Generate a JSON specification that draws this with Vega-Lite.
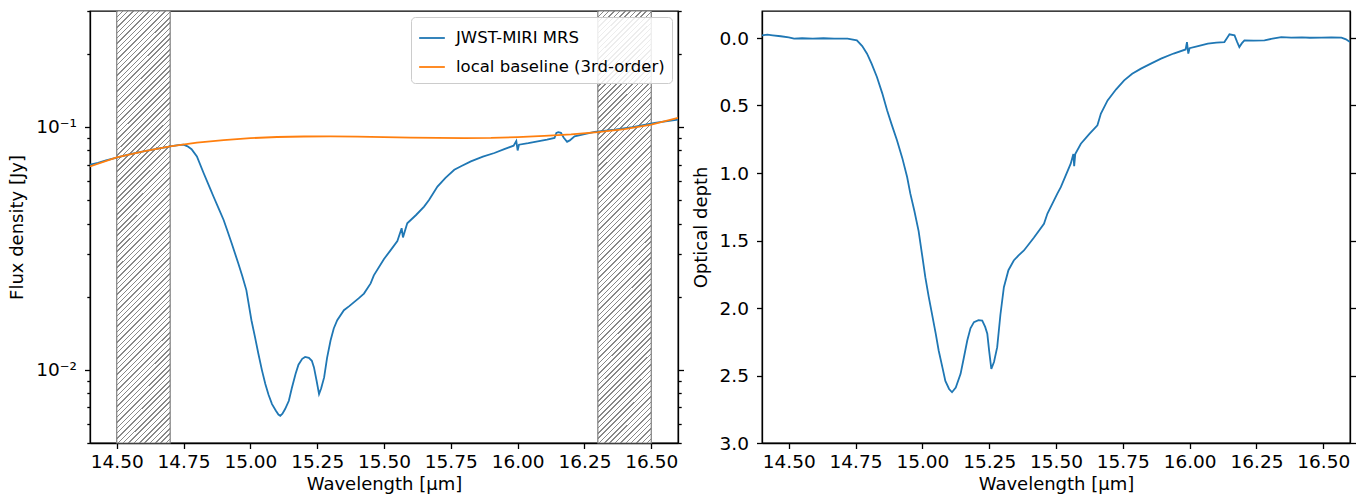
{
"$schema": "https://vega.github.io/schema/vega-lite/v6.json",
"background": "white",
"padding": {"left": 8, "top": 1, "right": 0, "bottom": 0},
"spacing": 6,
"resolve": {"scale": {"color": "independent"}, "legend": {"color": "independent"}},
"config": {
  "font": "DejaVu Sans",
  "view": {"stroke": "black", "strokeWidth": 1.3},
  "axis": {"labelFont": "DejaVu Sans", "titleFont": "DejaVu Sans", "labelFontSize": 18.5, "titleFontSize": 18, "titleFontWeight": "normal", "labelColor": "black", "titleColor": "black", "domainColor": "black", "tickColor": "black", "domainWidth": 1.3, "tickWidth": 1.3, "grid": false},
  "legend": {"strokeColor": "#cccccc", "fillColor": "rgba(255,255,255,0.85)", "padding": 7, "cornerRadius": 4, "labelFontSize": 16.5, "labelFont": "DejaVu Sans", "labelColor": "black", "symbolStrokeWidth": 1.8, "symbolSize": 660, "rowPadding": 6, "labelOffset": 10, "labelLimit": 400}
},
"datasets": {
  "bands": [{"start": 14.5, "end": 14.7}, {"start": 16.3, "end": 16.5}],
  "base": [
    {"wl": 14.4, "flux": 0.0688}, {"wl": 14.5, "flux": 0.0749}, {"wl": 14.6, "flux": 0.0793}, {"wl": 14.7, "flux": 0.0831},
    {"wl": 14.8, "flux": 0.0861}, {"wl": 14.9, "flux": 0.0882}, {"wl": 15.0, "flux": 0.0899}, {"wl": 15.1, "flux": 0.0909},
    {"wl": 15.2, "flux": 0.0913}, {"wl": 15.3, "flux": 0.0914}, {"wl": 15.4, "flux": 0.0912}, {"wl": 15.5, "flux": 0.0908},
    {"wl": 15.6, "flux": 0.0903}, {"wl": 15.7, "flux": 0.0901}, {"wl": 15.8, "flux": 0.0900}, {"wl": 15.9, "flux": 0.0901},
    {"wl": 16.0, "flux": 0.0908}, {"wl": 16.1, "flux": 0.0918}, {"wl": 16.2, "flux": 0.0931}, {"wl": 16.3, "flux": 0.0952},
    {"wl": 16.4, "flux": 0.0979}, {"wl": 16.5, "flux": 0.1022}, {"wl": 16.6, "flux": 0.1089}
  ],
  "flux": [
    {"wl": 14.40, "flux": 0.0699}, {"wl": 14.43, "flux": 0.0712}, {"wl": 14.46, "flux": 0.0728}, {"wl": 14.50, "flux": 0.0748},
    {"wl": 14.55, "flux": 0.0772}, {"wl": 14.60, "flux": 0.0793}, {"wl": 14.65, "flux": 0.0813}, {"wl": 14.70, "flux": 0.0832},
    {"wl": 14.73, "flux": 0.0842}, {"wl": 14.75, "flux": 0.0845}, {"wl": 14.765, "flux": 0.0832}, {"wl": 14.78, "flux": 0.0810},
    {"wl": 14.80, "flux": 0.0756}, {"wl": 14.825, "flux": 0.0646}, {"wl": 14.85, "flux": 0.0556}, {"wl": 14.862, "flux": 0.0517},
    {"wl": 14.88, "flux": 0.0465}, {"wl": 14.90, "flux": 0.0414}, {"wl": 14.915, "flux": 0.0371}, {"wl": 14.93, "flux": 0.0332},
    {"wl": 14.955, "flux": 0.0274}, {"wl": 14.97, "flux": 0.0243}, {"wl": 14.985, "flux": 0.0213}, {"wl": 15.004, "flux": 0.0160},
    {"wl": 15.017, "flux": 0.0137}, {"wl": 15.03, "flux": 0.01165}, {"wl": 15.043, "flux": 0.0100}, {"wl": 15.056, "flux": 0.00874},
    {"wl": 15.068, "flux": 0.0079}, {"wl": 15.081, "flux": 0.00723}, {"wl": 15.095, "flux": 0.0068}, {"wl": 15.105, "flux": 0.00655},
    {"wl": 15.112, "flux": 0.00647}, {"wl": 15.12, "flux": 0.0066}, {"wl": 15.13, "flux": 0.0069}, {"wl": 15.144, "flux": 0.00746},
    {"wl": 15.155, "flux": 0.0084}, {"wl": 15.169, "flux": 0.00962}, {"wl": 15.18, "flux": 0.0105}, {"wl": 15.194, "flux": 0.0111},
    {"wl": 15.205, "flux": 0.0113}, {"wl": 15.219, "flux": 0.01121}, {"wl": 15.23, "flux": 0.0109}, {"wl": 15.238, "flux": 0.01024},
    {"wl": 15.248, "flux": 0.0090}, {"wl": 15.257, "flux": 0.00795}, {"wl": 15.265, "flux": 0.0084}, {"wl": 15.276, "flux": 0.00931},
    {"wl": 15.287, "flux": 0.0112}, {"wl": 15.30, "flux": 0.0132}, {"wl": 15.312, "flux": 0.0148}, {"wl": 15.325, "flux": 0.0160},
    {"wl": 15.35, "flux": 0.0176}, {"wl": 15.37, "flux": 0.0183}, {"wl": 15.388, "flux": 0.0190}, {"wl": 15.405, "flux": 0.0197},
    {"wl": 15.425, "flux": 0.0206}, {"wl": 15.45, "flux": 0.0227}, {"wl": 15.462, "flux": 0.0245}, {"wl": 15.50, "flux": 0.0286},
    {"wl": 15.525, "flux": 0.0311}, {"wl": 15.55, "flux": 0.0339}, {"wl": 15.566, "flux": 0.0383}, {"wl": 15.571, "flux": 0.0351},
    {"wl": 15.587, "flux": 0.0401}, {"wl": 15.62, "flux": 0.0434}, {"wl": 15.65, "flux": 0.0470}, {"wl": 15.669, "flux": 0.0501},
    {"wl": 15.70, "flux": 0.0568}, {"wl": 15.73, "flux": 0.0617}, {"wl": 15.763, "flux": 0.0666}, {"wl": 15.79, "flux": 0.0690},
    {"wl": 15.825, "flux": 0.0721}, {"wl": 15.87, "flux": 0.0754}, {"wl": 15.913, "flux": 0.0781}, {"wl": 15.95, "flux": 0.0810},
    {"wl": 15.985, "flux": 0.0837}, {"wl": 15.995, "flux": 0.0875}, {"wl": 16.0, "flux": 0.0800}, {"wl": 16.005, "flux": 0.0845},
    {"wl": 16.04, "flux": 0.0857}, {"wl": 16.075, "flux": 0.0872}, {"wl": 16.11, "flux": 0.0886}, {"wl": 16.138, "flux": 0.0901},
    {"wl": 16.145, "flux": 0.0945}, {"wl": 16.152, "flux": 0.0952}, {"wl": 16.162, "flux": 0.0945}, {"wl": 16.172, "flux": 0.0905},
    {"wl": 16.185, "flux": 0.0868}, {"wl": 16.195, "flux": 0.0880}, {"wl": 16.213, "flux": 0.0914}, {"wl": 16.25, "flux": 0.0934},
    {"wl": 16.288, "flux": 0.0954}, {"wl": 16.363, "flux": 0.0975}, {"wl": 16.43, "flux": 0.0998}, {"wl": 16.513, "flux": 0.1039},
    {"wl": 16.56, "flux": 0.1057}, {"wl": 16.6, "flux": 0.1072}
  ],
  "tau": [
    {"wl": 14.40, "tau": -0.02}, {"wl": 14.42, "tau": -0.025}, {"wl": 14.44, "tau": -0.02}, {"wl": 14.47, "tau": -0.013},
    {"wl": 14.50, "tau": -0.005}, {"wl": 14.52, "tau": 0.004}, {"wl": 14.55, "tau": 0.002}, {"wl": 14.59, "tau": 0.004},
    {"wl": 14.63, "tau": 0.002}, {"wl": 14.67, "tau": 0.005}, {"wl": 14.72, "tau": 0.004}, {"wl": 14.755, "tau": 0.017},
    {"wl": 14.775, "tau": 0.06}, {"wl": 14.793, "tau": 0.116}, {"wl": 14.81, "tau": 0.19}, {"wl": 14.83, "tau": 0.289},
    {"wl": 14.85, "tau": 0.41}, {"wl": 14.868, "tau": 0.536}, {"wl": 14.885, "tau": 0.64}, {"wl": 14.905, "tau": 0.758},
    {"wl": 14.925, "tau": 0.89}, {"wl": 14.943, "tau": 1.03}, {"wl": 14.955, "tau": 1.153}, {"wl": 14.97, "tau": 1.28},
    {"wl": 14.986, "tau": 1.43}, {"wl": 15.0, "tau": 1.62}, {"wl": 15.011, "tau": 1.772}, {"wl": 15.024, "tau": 1.92},
    {"wl": 15.036, "tau": 2.043}, {"wl": 15.05, "tau": 2.19}, {"wl": 15.061, "tau": 2.315}, {"wl": 15.075, "tau": 2.44},
    {"wl": 15.086, "tau": 2.54}, {"wl": 15.1, "tau": 2.6}, {"wl": 15.111, "tau": 2.624}, {"wl": 15.125, "tau": 2.59},
    {"wl": 15.143, "tau": 2.488}, {"wl": 15.155, "tau": 2.37}, {"wl": 15.168, "tau": 2.241}, {"wl": 15.18, "tau": 2.15},
    {"wl": 15.193, "tau": 2.105}, {"wl": 15.21, "tau": 2.09}, {"wl": 15.224, "tau": 2.093}, {"wl": 15.235, "tau": 2.14},
    {"wl": 15.243, "tau": 2.191}, {"wl": 15.25, "tau": 2.32}, {"wl": 15.258, "tau": 2.451}, {"wl": 15.268, "tau": 2.4},
    {"wl": 15.28, "tau": 2.29}, {"wl": 15.292, "tau": 2.05}, {"wl": 15.305, "tau": 1.846}, {"wl": 15.322, "tau": 1.72},
    {"wl": 15.342, "tau": 1.648}, {"wl": 15.36, "tau": 1.61}, {"wl": 15.38, "tau": 1.574}, {"wl": 15.417, "tau": 1.48},
    {"wl": 15.455, "tau": 1.376}, {"wl": 15.468, "tau": 1.3}, {"wl": 15.505, "tau": 1.153}, {"wl": 15.518, "tau": 1.105},
    {"wl": 15.555, "tau": 0.931}, {"wl": 15.565, "tau": 0.86}, {"wl": 15.568, "tau": 0.95}, {"wl": 15.572, "tau": 0.86},
    {"wl": 15.593, "tau": 0.783}, {"wl": 15.625, "tau": 0.71}, {"wl": 15.655, "tau": 0.647}, {"wl": 15.668, "tau": 0.56},
    {"wl": 15.693, "tau": 0.462}, {"wl": 15.725, "tau": 0.38}, {"wl": 15.755, "tau": 0.314}, {"wl": 15.785, "tau": 0.265},
    {"wl": 15.818, "tau": 0.227}, {"wl": 15.855, "tau": 0.19}, {"wl": 15.893, "tau": 0.153}, {"wl": 15.94, "tau": 0.115},
    {"wl": 15.985, "tau": 0.085}, {"wl": 15.99, "tau": 0.03}, {"wl": 15.995, "tau": 0.116}, {"wl": 16.0, "tau": 0.075},
    {"wl": 16.035, "tau": 0.058}, {"wl": 16.068, "tau": 0.042}, {"wl": 16.1, "tau": 0.035}, {"wl": 16.13, "tau": 0.03},
    {"wl": 16.14, "tau": 0.0}, {"wl": 16.149, "tau": -0.027}, {"wl": 16.168, "tau": -0.02}, {"wl": 16.178, "tau": 0.03},
    {"wl": 16.186, "tau": 0.067}, {"wl": 16.195, "tau": 0.04}, {"wl": 16.205, "tau": 0.017}, {"wl": 16.24, "tau": 0.02},
    {"wl": 16.28, "tau": 0.017}, {"wl": 16.31, "tau": 0.005}, {"wl": 16.343, "tau": -0.007}, {"wl": 16.38, "tau": -0.003},
    {"wl": 16.42, "tau": -0.005}, {"wl": 16.45, "tau": -0.002}, {"wl": 16.493, "tau": -0.003}, {"wl": 16.53, "tau": -0.005},
    {"wl": 16.568, "tau": -0.003}, {"wl": 16.585, "tau": 0.01}, {"wl": 16.6, "tau": 0.03}
  ]
},
"hconcat": [
  {
    "width": 588, "height": 432,
    "layer": [
      {
        "data": {"name": "bands"},
        "mark": {"type": "rect", "stroke": "#808080", "strokeWidth": 1.2, "fill": {"gradient": "linear", "x1": 0, "y1": 0, "x2": 0.1366, "y2": 1.1066, "stops": [
{"offset":0,"color":"#888"},{"offset":0.003,"color":"#888"},{"offset":0.003,"color":"#fff"},
{"offset":0.011,"color":"#fff"},{"offset":0.011,"color":"#888"},{"offset":0.014,"color":"#888"},{"offset":0.014,"color":"#fff"},
{"offset":0.022,"color":"#fff"},{"offset":0.022,"color":"#888"},{"offset":0.025,"color":"#888"},{"offset":0.025,"color":"#fff"},
{"offset":0.033,"color":"#fff"},{"offset":0.033,"color":"#888"},{"offset":0.036,"color":"#888"},{"offset":0.036,"color":"#fff"},
{"offset":0.044,"color":"#fff"},{"offset":0.044,"color":"#888"},{"offset":0.047,"color":"#888"},{"offset":0.047,"color":"#fff"},
{"offset":0.055,"color":"#fff"},{"offset":0.055,"color":"#888"},{"offset":0.058,"color":"#888"},{"offset":0.058,"color":"#fff"},
{"offset":0.066,"color":"#fff"},{"offset":0.066,"color":"#888"},{"offset":0.069,"color":"#888"},{"offset":0.069,"color":"#fff"},
{"offset":0.077,"color":"#fff"},{"offset":0.077,"color":"#888"},{"offset":0.08,"color":"#888"},{"offset":0.08,"color":"#fff"},
{"offset":0.088,"color":"#fff"},{"offset":0.088,"color":"#888"},{"offset":0.091,"color":"#888"},{"offset":0.091,"color":"#fff"},
{"offset":0.099,"color":"#fff"},{"offset":0.099,"color":"#888"},{"offset":0.102,"color":"#888"},{"offset":0.102,"color":"#fff"},
{"offset":0.11,"color":"#fff"},{"offset":0.11,"color":"#888"},{"offset":0.113,"color":"#888"},{"offset":0.113,"color":"#fff"},
{"offset":0.121,"color":"#fff"},{"offset":0.121,"color":"#888"},{"offset":0.124,"color":"#888"},{"offset":0.124,"color":"#fff"},
{"offset":0.132,"color":"#fff"},{"offset":0.132,"color":"#888"},{"offset":0.135,"color":"#888"},{"offset":0.135,"color":"#fff"},
{"offset":0.143,"color":"#fff"},{"offset":0.143,"color":"#888"},{"offset":0.146,"color":"#888"},{"offset":0.146,"color":"#fff"},
{"offset":0.154,"color":"#fff"},{"offset":0.154,"color":"#888"},{"offset":0.157,"color":"#888"},{"offset":0.157,"color":"#fff"},
{"offset":0.165,"color":"#fff"},{"offset":0.165,"color":"#888"},{"offset":0.168,"color":"#888"},{"offset":0.168,"color":"#fff"},
{"offset":0.176,"color":"#fff"},{"offset":0.176,"color":"#888"},{"offset":0.179,"color":"#888"},{"offset":0.179,"color":"#fff"},
{"offset":0.187,"color":"#fff"},{"offset":0.187,"color":"#888"},{"offset":0.19,"color":"#888"},{"offset":0.19,"color":"#fff"},
{"offset":0.198,"color":"#fff"},{"offset":0.198,"color":"#888"},{"offset":0.201,"color":"#888"},{"offset":0.201,"color":"#fff"},
{"offset":0.209,"color":"#fff"},{"offset":0.209,"color":"#888"},{"offset":0.212,"color":"#888"},{"offset":0.212,"color":"#fff"},
{"offset":0.22,"color":"#fff"},{"offset":0.22,"color":"#888"},{"offset":0.223,"color":"#888"},{"offset":0.223,"color":"#fff"},
{"offset":0.231,"color":"#fff"},{"offset":0.231,"color":"#888"},{"offset":0.234,"color":"#888"},{"offset":0.234,"color":"#fff"},
{"offset":0.242,"color":"#fff"},{"offset":0.242,"color":"#888"},{"offset":0.245,"color":"#888"},{"offset":0.245,"color":"#fff"},
{"offset":0.253,"color":"#fff"},{"offset":0.253,"color":"#888"},{"offset":0.256,"color":"#888"},{"offset":0.256,"color":"#fff"},
{"offset":0.264,"color":"#fff"},{"offset":0.264,"color":"#888"},{"offset":0.267,"color":"#888"},{"offset":0.267,"color":"#fff"},
{"offset":0.275,"color":"#fff"},{"offset":0.275,"color":"#888"},{"offset":0.278,"color":"#888"},{"offset":0.278,"color":"#fff"},
{"offset":0.286,"color":"#fff"},{"offset":0.286,"color":"#888"},{"offset":0.289,"color":"#888"},{"offset":0.289,"color":"#fff"},
{"offset":0.297,"color":"#fff"},{"offset":0.297,"color":"#888"},{"offset":0.3,"color":"#888"},{"offset":0.3,"color":"#fff"},
{"offset":0.308,"color":"#fff"},{"offset":0.308,"color":"#888"},{"offset":0.311,"color":"#888"},{"offset":0.311,"color":"#fff"},
{"offset":0.319,"color":"#fff"},{"offset":0.319,"color":"#888"},{"offset":0.322,"color":"#888"},{"offset":0.322,"color":"#fff"},
{"offset":0.33,"color":"#fff"},{"offset":0.33,"color":"#888"},{"offset":0.333,"color":"#888"},{"offset":0.333,"color":"#fff"},
{"offset":0.341,"color":"#fff"},{"offset":0.341,"color":"#888"},{"offset":0.344,"color":"#888"},{"offset":0.344,"color":"#fff"},
{"offset":0.352,"color":"#fff"},{"offset":0.352,"color":"#888"},{"offset":0.355,"color":"#888"},{"offset":0.355,"color":"#fff"},
{"offset":0.363,"color":"#fff"},{"offset":0.363,"color":"#888"},{"offset":0.366,"color":"#888"},{"offset":0.366,"color":"#fff"},
{"offset":0.374,"color":"#fff"},{"offset":0.374,"color":"#888"},{"offset":0.377,"color":"#888"},{"offset":0.377,"color":"#fff"},
{"offset":0.385,"color":"#fff"},{"offset":0.385,"color":"#888"},{"offset":0.388,"color":"#888"},{"offset":0.388,"color":"#fff"},
{"offset":0.396,"color":"#fff"},{"offset":0.396,"color":"#888"},{"offset":0.399,"color":"#888"},{"offset":0.399,"color":"#fff"},
{"offset":0.407,"color":"#fff"},{"offset":0.407,"color":"#888"},{"offset":0.41,"color":"#888"},{"offset":0.41,"color":"#fff"},
{"offset":0.418,"color":"#fff"},{"offset":0.418,"color":"#888"},{"offset":0.421,"color":"#888"},{"offset":0.421,"color":"#fff"},
{"offset":0.429,"color":"#fff"},{"offset":0.429,"color":"#888"},{"offset":0.432,"color":"#888"},{"offset":0.432,"color":"#fff"},
{"offset":0.44,"color":"#fff"},{"offset":0.44,"color":"#888"},{"offset":0.443,"color":"#888"},{"offset":0.443,"color":"#fff"},
{"offset":0.451,"color":"#fff"},{"offset":0.451,"color":"#888"},{"offset":0.454,"color":"#888"},{"offset":0.454,"color":"#fff"},
{"offset":0.462,"color":"#fff"},{"offset":0.462,"color":"#888"},{"offset":0.465,"color":"#888"},{"offset":0.465,"color":"#fff"},
{"offset":0.473,"color":"#fff"},{"offset":0.473,"color":"#888"},{"offset":0.476,"color":"#888"},{"offset":0.476,"color":"#fff"},
{"offset":0.484,"color":"#fff"},{"offset":0.484,"color":"#888"},{"offset":0.487,"color":"#888"},{"offset":0.487,"color":"#fff"},
{"offset":0.495,"color":"#fff"},{"offset":0.495,"color":"#888"},{"offset":0.498,"color":"#888"},{"offset":0.498,"color":"#fff"},
{"offset":0.506,"color":"#fff"},{"offset":0.506,"color":"#888"},{"offset":0.509,"color":"#888"},{"offset":0.509,"color":"#fff"},
{"offset":0.517,"color":"#fff"},{"offset":0.517,"color":"#888"},{"offset":0.52,"color":"#888"},{"offset":0.52,"color":"#fff"},
{"offset":0.528,"color":"#fff"},{"offset":0.528,"color":"#888"},{"offset":0.531,"color":"#888"},{"offset":0.531,"color":"#fff"},
{"offset":0.539,"color":"#fff"},{"offset":0.539,"color":"#888"},{"offset":0.542,"color":"#888"},{"offset":0.542,"color":"#fff"},
{"offset":0.55,"color":"#fff"},{"offset":0.55,"color":"#888"},{"offset":0.553,"color":"#888"},{"offset":0.553,"color":"#fff"},
{"offset":0.561,"color":"#fff"},{"offset":0.561,"color":"#888"},{"offset":0.564,"color":"#888"},{"offset":0.564,"color":"#fff"},
{"offset":0.572,"color":"#fff"},{"offset":0.572,"color":"#888"},{"offset":0.575,"color":"#888"},{"offset":0.575,"color":"#fff"},
{"offset":0.583,"color":"#fff"},{"offset":0.583,"color":"#888"},{"offset":0.586,"color":"#888"},{"offset":0.586,"color":"#fff"},
{"offset":0.594,"color":"#fff"},{"offset":0.594,"color":"#888"},{"offset":0.597,"color":"#888"},{"offset":0.597,"color":"#fff"},
{"offset":0.605,"color":"#fff"},{"offset":0.605,"color":"#888"},{"offset":0.608,"color":"#888"},{"offset":0.608,"color":"#fff"},
{"offset":0.616,"color":"#fff"},{"offset":0.616,"color":"#888"},{"offset":0.619,"color":"#888"},{"offset":0.619,"color":"#fff"},
{"offset":0.627,"color":"#fff"},{"offset":0.627,"color":"#888"},{"offset":0.63,"color":"#888"},{"offset":0.63,"color":"#fff"},
{"offset":0.638,"color":"#fff"},{"offset":0.638,"color":"#888"},{"offset":0.641,"color":"#888"},{"offset":0.641,"color":"#fff"},
{"offset":0.649,"color":"#fff"},{"offset":0.649,"color":"#888"},{"offset":0.652,"color":"#888"},{"offset":0.652,"color":"#fff"},
{"offset":0.66,"color":"#fff"},{"offset":0.66,"color":"#888"},{"offset":0.663,"color":"#888"},{"offset":0.663,"color":"#fff"},
{"offset":0.671,"color":"#fff"},{"offset":0.671,"color":"#888"},{"offset":0.674,"color":"#888"},{"offset":0.674,"color":"#fff"},
{"offset":0.682,"color":"#fff"},{"offset":0.682,"color":"#888"},{"offset":0.685,"color":"#888"},{"offset":0.685,"color":"#fff"},
{"offset":0.693,"color":"#fff"},{"offset":0.693,"color":"#888"},{"offset":0.696,"color":"#888"},{"offset":0.696,"color":"#fff"},
{"offset":0.704,"color":"#fff"},{"offset":0.704,"color":"#888"},{"offset":0.707,"color":"#888"},{"offset":0.707,"color":"#fff"},
{"offset":0.715,"color":"#fff"},{"offset":0.715,"color":"#888"},{"offset":0.718,"color":"#888"},{"offset":0.718,"color":"#fff"},
{"offset":0.726,"color":"#fff"},{"offset":0.726,"color":"#888"},{"offset":0.729,"color":"#888"},{"offset":0.729,"color":"#fff"},
{"offset":0.737,"color":"#fff"},{"offset":0.737,"color":"#888"},{"offset":0.74,"color":"#888"},{"offset":0.74,"color":"#fff"},
{"offset":0.748,"color":"#fff"},{"offset":0.748,"color":"#888"},{"offset":0.751,"color":"#888"},{"offset":0.751,"color":"#fff"},
{"offset":0.759,"color":"#fff"},{"offset":0.759,"color":"#888"},{"offset":0.762,"color":"#888"},{"offset":0.762,"color":"#fff"},
{"offset":0.77,"color":"#fff"},{"offset":0.77,"color":"#888"},{"offset":0.773,"color":"#888"},{"offset":0.773,"color":"#fff"},
{"offset":0.781,"color":"#fff"},{"offset":0.781,"color":"#888"},{"offset":0.784,"color":"#888"},{"offset":0.784,"color":"#fff"},
{"offset":0.792,"color":"#fff"},{"offset":0.792,"color":"#888"},{"offset":0.795,"color":"#888"},{"offset":0.795,"color":"#fff"},
{"offset":0.803,"color":"#fff"},{"offset":0.803,"color":"#888"},{"offset":0.806,"color":"#888"},{"offset":0.806,"color":"#fff"},
{"offset":0.814,"color":"#fff"},{"offset":0.814,"color":"#888"},{"offset":0.817,"color":"#888"},{"offset":0.817,"color":"#fff"},
{"offset":0.825,"color":"#fff"},{"offset":0.825,"color":"#888"},{"offset":0.828,"color":"#888"},{"offset":0.828,"color":"#fff"},
{"offset":0.836,"color":"#fff"},{"offset":0.836,"color":"#888"},{"offset":0.839,"color":"#888"},{"offset":0.839,"color":"#fff"},
{"offset":0.847,"color":"#fff"},{"offset":0.847,"color":"#888"},{"offset":0.85,"color":"#888"},{"offset":0.85,"color":"#fff"},
{"offset":0.858,"color":"#fff"},{"offset":0.858,"color":"#888"},{"offset":0.861,"color":"#888"},{"offset":0.861,"color":"#fff"},
{"offset":0.869,"color":"#fff"},{"offset":0.869,"color":"#888"},{"offset":0.872,"color":"#888"},{"offset":0.872,"color":"#fff"},
{"offset":0.88,"color":"#fff"},{"offset":0.88,"color":"#888"},{"offset":0.883,"color":"#888"},{"offset":0.883,"color":"#fff"},
{"offset":0.891,"color":"#fff"},{"offset":0.891,"color":"#888"},{"offset":0.894,"color":"#888"},{"offset":0.894,"color":"#fff"},
{"offset":0.902,"color":"#fff"},{"offset":0.902,"color":"#888"},{"offset":0.905,"color":"#888"},{"offset":0.905,"color":"#fff"},
{"offset":0.913,"color":"#fff"},{"offset":0.913,"color":"#888"},{"offset":0.916,"color":"#888"},{"offset":0.916,"color":"#fff"},
{"offset":0.924,"color":"#fff"},{"offset":0.924,"color":"#888"},{"offset":0.927,"color":"#888"},{"offset":0.927,"color":"#fff"},
{"offset":0.935,"color":"#fff"},{"offset":0.935,"color":"#888"},{"offset":0.938,"color":"#888"},{"offset":0.938,"color":"#fff"},
{"offset":0.946,"color":"#fff"},{"offset":0.946,"color":"#888"},{"offset":0.949,"color":"#888"},{"offset":0.949,"color":"#fff"},
{"offset":0.957,"color":"#fff"},{"offset":0.957,"color":"#888"},{"offset":0.96,"color":"#888"},{"offset":0.96,"color":"#fff"},
{"offset":0.968,"color":"#fff"},{"offset":0.968,"color":"#888"},{"offset":0.971,"color":"#888"},{"offset":0.971,"color":"#fff"},
{"offset":0.979,"color":"#fff"},{"offset":0.979,"color":"#888"},{"offset":0.982,"color":"#888"},{"offset":0.982,"color":"#fff"},
{"offset":0.99,"color":"#fff"},{"offset":0.99,"color":"#888"},{"offset":0.993,"color":"#888"},{"offset":0.993,"color":"#fff"},
{"offset":1,"color":"#fff"}
        ]}},
        "encoding": {
          "x": {"field": "start", "type": "quantitative", "scale": {"domain": [14.4, 16.6], "nice": false, "zero": false},
                "axis": {"values": [14.5, 14.75, 15.0, 15.25, 15.5, 15.75, 16.0, 16.25, 16.5], "format": ".2f", "tickSize": 5.5, "labelPadding": 4, "title": "Wavelength [μm]", "titlePadding": 4, "labelFlush": false}},
          "x2": {"field": "end"}
        }
      },
      {
        "data": {"name": "flux"},
        "mark": {"type": "line", "strokeWidth": 1.8, "clip": true},
        "encoding": {
          "x": {"field": "wl", "type": "quantitative"},
          "y": {"field": "flux", "type": "quantitative", "scale": {"type": "log", "domain": [0.005, 0.3], "nice": false},
                "axis": {"orient": "left", "title": "Flux density [Jy]", "values": [0.005, 0.006, 0.007, 0.008, 0.009, 0.01, 0.02, 0.03, 0.04, 0.05, 0.06, 0.07, 0.08, 0.09, 0.1, 0.2, 0.3],
                         "labelExpr": "datum.value == 0.01 ? '10⁻²' : (datum.value == 0.1 ? '10⁻¹' : '')", "labelOverlap": false,
                         "tickSize": {"condition": {"test": "datum.value == 0.01 || datum.value == 0.1", "value": 5.5}, "value": 3.2},
                         "labelPadding": 8, "titlePadding": 9}},
          "color": {"datum": "JWST-MIRI MRS", "type": "nominal", "scale": {"domain": ["JWST-MIRI MRS", "local baseline (3rd-order)"], "range": ["#1f77b4", "#ff7f0e"]},
                    "legend": {"title": null, "orient": "top-right", "offset": 6, "labelLimit": 400}}
        }
      },
      {
        "data": {"name": "base"},
        "mark": {"type": "line", "strokeWidth": 1.8, "clip": true},
        "encoding": {
          "x": {"field": "wl", "type": "quantitative"},
          "y": {"field": "flux", "type": "quantitative",
                "axis": {"orient": "right", "title": null, "labels": false, "values": [0.005, 0.006, 0.007, 0.008, 0.009, 0.01, 0.02, 0.03, 0.04, 0.05, 0.06, 0.07, 0.08, 0.09, 0.1, 0.2, 0.3],
                         "tickSize": {"condition": {"test": "datum.value == 0.01 || datum.value == 0.1", "value": 5.5}, "value": 3.2}}},
          "color": {"datum": "local baseline (3rd-order)", "type": "nominal"}
        }
      }
    ],
    "resolve": {"axis": {"y": "independent"}}
  },
  {
    "width": 588, "height": 432,
    "layer": [
      {
        "data": {"name": "tau"},
        "mark": {"type": "line", "strokeWidth": 1.8, "color": "#1f77b4", "clip": true},
        "encoding": {
          "x": {"field": "wl", "type": "quantitative", "scale": {"domain": [14.4, 16.6], "nice": false, "zero": false},
                "axis": {"values": [14.5, 14.75, 15.0, 15.25, 15.5, 15.75, 16.0, 16.25, 16.5], "format": ".2f", "tickSize": 5.5, "labelPadding": 4, "title": "Wavelength [μm]", "titlePadding": 4, "labelFlush": false}},
          "y": {"field": "tau", "type": "quantitative", "scale": {"domain": [-0.2, 3.0], "reverse": true, "nice": false, "zero": false},
                "axis": {"orient": "left", "title": "Optical depth", "values": [0, 0.5, 1, 1.5, 2, 2.5, 3], "format": ".1f", "tickSize": 5.5, "labelPadding": 8, "titlePadding": 9}}
        }
      },
      {
        "data": {"name": "tau"},
        "mark": {"type": "line", "opacity": 0},
        "encoding": {
          "x": {"field": "wl", "type": "quantitative"},
          "y": {"field": "tau", "type": "quantitative",
                "axis": {"orient": "right", "title": null, "labels": false, "values": [0, 0.5, 1, 1.5, 2, 2.5, 3], "tickSize": 5.5}}
        }
      }
    ],
    "resolve": {"axis": {"y": "independent"}}
  }
]
}
